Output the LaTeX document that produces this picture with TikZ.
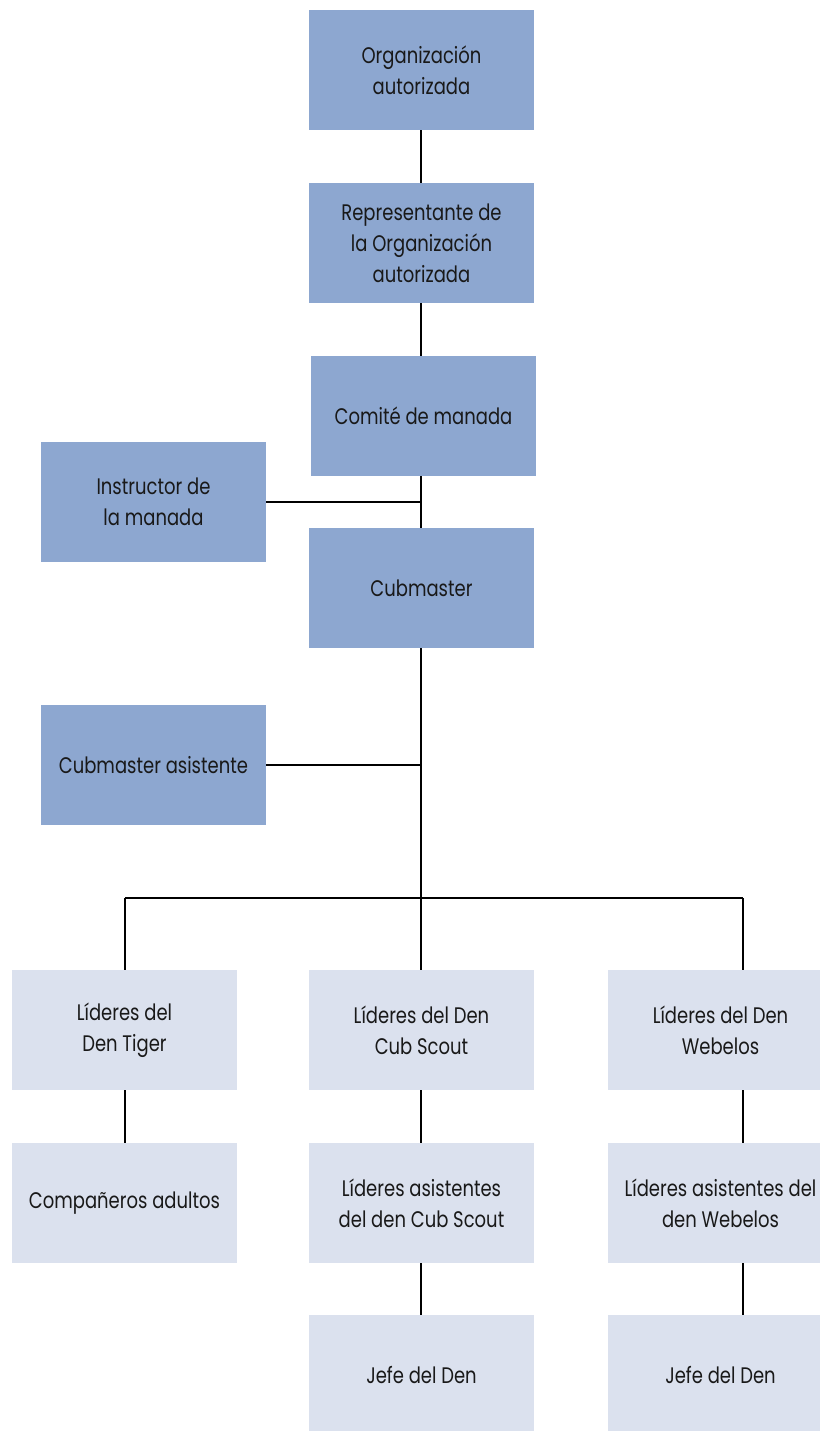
\documentclass[tikz,border=0pt]{standalone}
\usepackage{fontspec}
\setmainfont{Poppins}[FakeStretch=0.8]
\usepackage{xcolor}
\usetikzlibrary{calc}
\definecolor{darkbox}{HTML}{8DA7D0}
\definecolor{lightbox}{HTML}{DBE1EE}
\tikzset{
  topbox/.style={fill=darkbox, minimum width=4.5cm, minimum height=2.4cm, align=center, inner sep=0pt, font=\fontsize{12.8pt}{17.6pt}\selectfont, text=black!90},
  denbox/.style={topbox, fill=lightbox},
  link/.style={line width=1.6pt, black}
}
\begin{document}
\begin{tikzpicture}[x=0.02cm, y=-0.02cm]
\useasboundingbox (0,0) rectangle (820,1431);
% chain of command
\node[topbox] (org) at (421.5, 70) {Organización\\autorizada};
\node[topbox] (rep) at (421.5, 243) {Representante de\\la Organización\\autorizada};
\node[topbox] (comite) at (423.5, 416) {Comité de manada};
\node[topbox] (instr) at (153.5, 502) {Instructor de\\la manada};
\node[topbox] (cub) at (421.5, 588) {Cubmaster};
\node[topbox] (asist) at (153.5, 765) {Cubmaster asistente};
% dens
\node[denbox] (tiger) at (124.5, 1030) {Líderes del\\Den Tiger};
\node[denbox] (cubscout) at (421.5, 1030) {Líderes del Den\\Cub Scout};
\node[denbox] (webelos) at (720.5, 1030) {Líderes del Den\\Webelos};
\node[denbox] (adultos) at (124.5, 1203) {Compañeros adultos};
\node[denbox] (asiscub) at (421.5, 1203) {Líderes asistentes\\del den Cub Scout};
\node[denbox] (asisweb) at (720.5, 1203) {Líderes asistentes del\\den Webelos};
\node[denbox] (jefecub) at (421.5, 1375) {Jefe del Den};
\node[denbox] (jefeweb) at (720.5, 1375) {Jefe del Den};
% branch points
\coordinate (split) at (421, 898);
\coordinate (lsplit) at (125, 898);
\coordinate (rsplit) at (743, 898);
\coordinate (ibranch) at (421, 502);
\coordinate (abranch) at (421, 765);
\draw[link] (org.south -| split) -- (rep.north -| split);
\draw[link] (rep.south -| split) -- (comite.north -| split);
\draw[link] (comite.south -| split) -- (cub.north -| split);
\draw[link] (instr.east) -- (ibranch);
\draw[link] (cub.south -| split) -- (split);
\draw[link] (asist.east) -- (abranch);
\draw[link] (lsplit) -- (rsplit);
\draw[link] (lsplit) -- (tiger.north -| lsplit);
\draw[link] (split) -- (cubscout.north -| split);
\draw[link] (rsplit) -- (webelos.north -| rsplit);
\draw[link] (tiger.south -| lsplit) -- (adultos.north -| lsplit);
\draw[link] (cubscout.south -| split) -- (asiscub.north -| split);
\draw[link] (webelos.south -| rsplit) -- (asisweb.north -| rsplit);
\draw[link] (asiscub.south -| split) -- (jefecub.north -| split);
\draw[link] (asisweb.south -| rsplit) -- (jefeweb.north -| rsplit);
\end{tikzpicture}
\end{document}
